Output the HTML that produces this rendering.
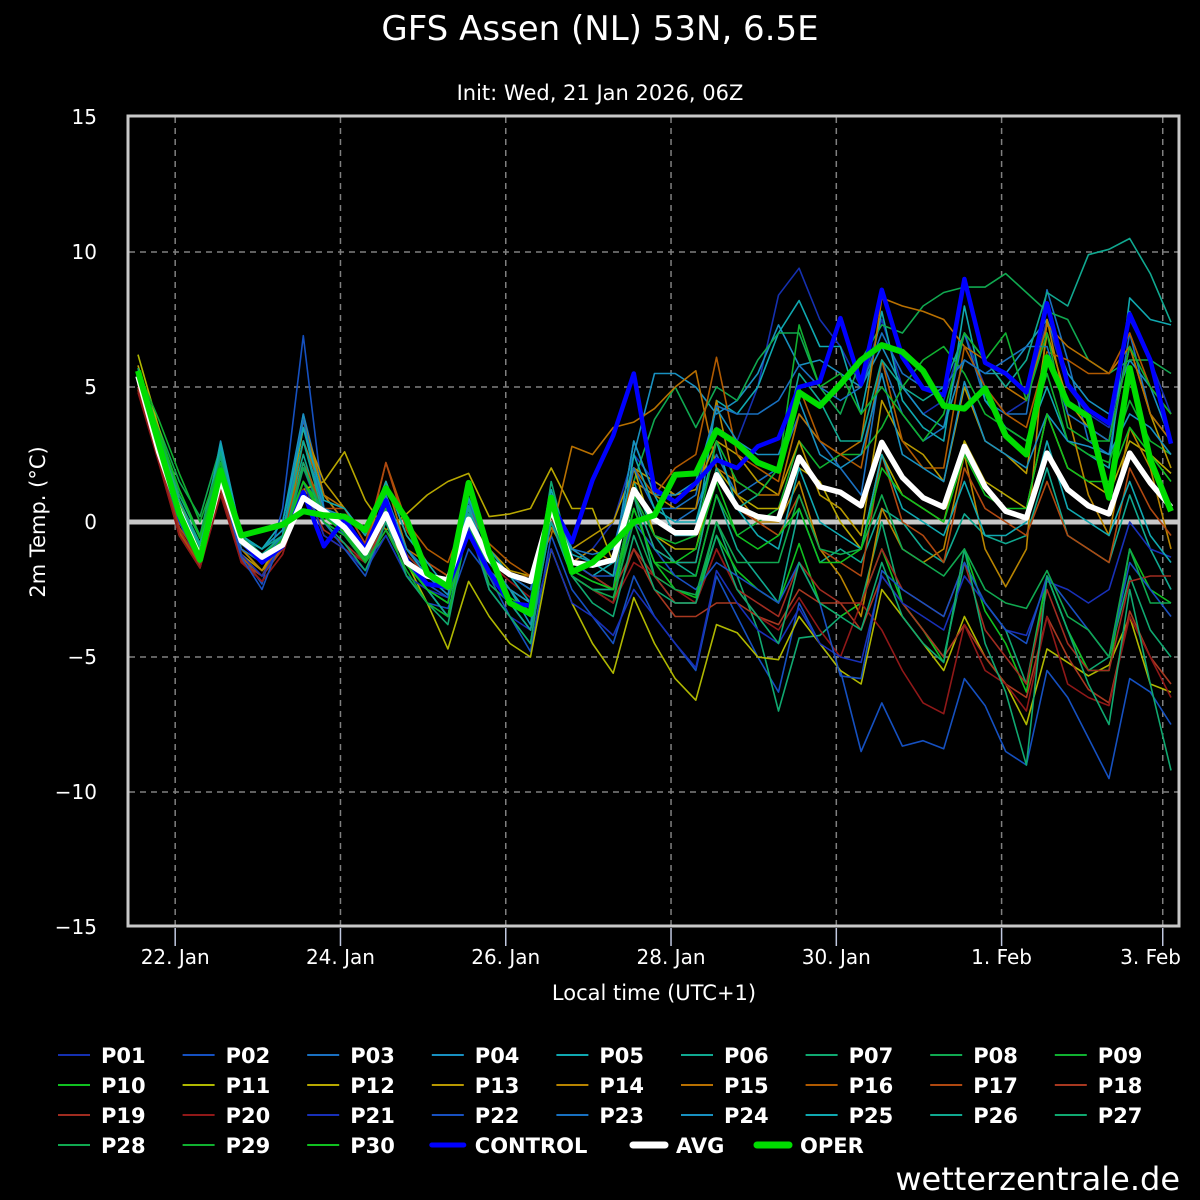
<!DOCTYPE html>
<html><head><meta charset="utf-8"><style>
html,body{margin:0;padding:0;background:#000;}
svg{display:block;font-family:"DejaVu Sans","Liberation Sans",sans-serif;}
</style></head><body>
<svg id="chart" width="1200" height="1200" viewBox="0 0 1200 1200" xmlns="http://www.w3.org/2000/svg">
<rect width="1200" height="1200" fill="#000"/>
<text x="600" y="40" fill="#fff" font-size="34" text-anchor="middle">GFS Assen (NL) 53N, 6.5E</text>
<text x="600" y="100" fill="#fff" font-size="21" text-anchor="middle">Init: Wed, 21 Jan 2026, 06Z</text>
<text x="0" y="0" fill="#fff" font-size="21" text-anchor="middle" transform="translate(45,522) rotate(-90)">2m Temp. (°C)</text>
<text x="654" y="1000" fill="#fff" font-size="21" text-anchor="middle">Local time (UTC+1)</text>
<text x="1180" y="1190" fill="#fff" font-size="32" text-anchor="end">wetterzentrale.de</text>
<defs><clipPath id="plotclip"><rect x="129" y="117" width="1049" height="808"/></clipPath></defs>
<g id="grid"></g>
<g id="series" clip-path="url(#plotclip)"></g>
<rect x="128" y="116" width="1051" height="810" fill="none" stroke="#c8c8c8" stroke-width="3"/>
<g id="axes"></g>
<g id="legend"></g>
</svg>
<script>
const dayLabels = ["22. Jan","24. Jan","26. Jan","28. Jan","30. Jan","1. Feb","3. Feb"];
const dayTickSteps = [1.8,9.8,17.8,25.8,33.8,41.8,49.6];
const yTicks = [15,10,5,0,-5,-10,-15];
const memberNames = ["P01","P02","P03","P04","P05","P06","P07","P08","P09","P10","P11","P12","P13","P14","P15","P16","P17","P18","P19","P20","P21","P22","P23","P24","P25","P26","P27","P28","P29","P30"];
const memberColors = ["#1530b0","#1550c0","#1a70c0","#1890c0","#10a8b0","#10a890","#10a870","#10a850","#10b030","#10c020","#b0b800","#b8a800","#b89800","#b88400","#b87000","#b05a00","#b04810","#a83820","#a02c20","#901818","#1830b8","#1850c0","#1870c0","#1890c0","#10a8b0","#10a890","#10a870","#10a850","#10b030","#10c020"];
const P01=[5.2,2.6,0.2,-1.5,1.8,-1,-1.8,-1,2,0,-0.5,-1.5,0.5,-1.5,-2.3,-2.5,0,-1.5,-2.5,-3,0.5,-1.5,-1,0,2.5,1.5,1,1.5,3.5,3,5,8.4,9.4,7.5,6.5,5,7.5,5,4,4.5,7,5,4,4.5,7.5,5,4,3.5,7.5,6,4];
const P02=[5,2.4,0,-1.6,1.5,-1.2,-2.3,0.5,6.9,0.5,-0.5,-1.5,0,-2,-3,-3.2,-1,-2,-3.5,-4.8,-0.5,-2.5,-3.5,-4.5,-2,-3.5,-4.5,-5.5,-2,-3.5,-5,-6.3,-3,-4.5,-5.5,-8.5,-6.7,-8.3,-8.1,-8.4,-5.8,-6.8,-8.5,-9,-5.5,-6.5,-8,-9.5,-5.8,-6.3,-7.5];
const P03=[5.3,2.7,0.3,-1.2,2.5,-0.8,-1.5,-0.5,4,1,0,-1,0.8,-1,-2,-2.5,0.8,-1.2,-2,-2.5,1,-1,-1.5,-1.5,2,0.5,0,0.5,2.5,1,1.5,2,4,3,2,1,6,4,3,3.5,7,4.5,4,4,8.6,6,3,2.5,7,4,3];
const P04=[5.4,2.9,0.5,-1,3,-0.5,-1,0,4,0.5,0,-1,0.5,-1.5,-2.5,-3.5,0.2,-1.8,-2.5,-3.8,0.8,-1.5,-2,-2.5,2.5,5.5,5.5,5,4,4.5,5.5,7.3,5.8,6,5.5,5,6.5,5,4,3.5,6,5.5,5.5,6.5,7.5,5.5,4.5,4,6,5,3];
const P05=[5.5,2.8,0.4,-1.2,2.7,-0.7,-1.2,-0.5,3.5,0.5,0,-1,0.5,-1.5,-2.5,-3,0.3,-1.5,-2.5,-3.5,0.8,-1.5,-2,-1.5,3,1,-0.5,-0.5,4.5,4,5,7,8.2,6.5,6.5,4,7.8,4.5,3.5,3,8,4.5,3.5,3,5,3,2.5,2,8.3,7.5,7.3];
const P06=[5.6,3,0.8,-0.8,2.5,-0.5,-1,-0.5,2.5,0,-0.5,-1.5,0,-2,-2.5,-3.5,0,-2,-3,-4,0,-2,-2.5,-3,1.5,-0.5,-1.5,-2,1,-1,-2,-3,0.5,-1.5,-1,-1.5,0.5,0,-1,-1.5,0.3,-0.5,-0.8,-0.5,2,-0.5,-1,-1.5,1,-1,-2.5];
const P07=[5.5,3.2,1,-0.5,2.8,-0.5,-1.2,-0.5,3,0.5,0,-1,1.5,-1,-2,-2.5,0.8,-2,-3,-3.5,1.5,-1.5,-2,-2.5,1,-2,-3,-3,0,-2,-4,-7,-4.3,-4.2,-3.5,-3,0,-3,-4,-5,-1.5,-3,-4,-6,-2,-4,-5.5,-5,-2,-4,-5];
const P08=[5.6,3.5,1.5,0.2,2.8,-0.5,-1,-0.3,2,0.2,-0.3,-1.2,0.5,-1.5,-2.5,-3,0.5,-1.5,-2.5,-3,1,-1,-1.5,-2,1.5,3.8,5,3.5,5,4.5,6,7,7,5,4,6,7.3,7,8,8.5,8.7,8.7,9.2,8.5,7.8,7.5,6,5.5,6,6,5.5];
const P09=[5.7,3,0.8,-1,2.5,-0.8,-1.5,-0.8,1.5,0.3,-0.2,-1.5,-0.5,-2,-3,-3.5,0,-2.5,-3.5,-4.5,0.5,-2,-2.5,-3,0.5,-1.5,-2,-2,1,-0.5,0,0.5,3,2,2.5,2.5,3.5,5,6,6.5,5.5,4,3.5,3,5.5,3,2.5,2.2,4.5,3,2.5];
const P10=[5.5,3,0.5,-1.3,2.2,-0.7,-1.3,-0.5,1.5,0.5,-0.2,-1.2,0.8,-1.2,-2,-2.5,0.5,-2,-3,-3.5,0,-2,-2.5,-2.5,0.5,-1.5,-2.5,-2.8,-0.5,-1.8,-2.5,-3,-0.8,-3,-3.5,-3,-1,-3,-4,-5.2,-1,-3.3,-4.5,-6.3,-2,-4,-5.5,-5.5,-1,-2.5,-3];
const P11=[6.2,3.5,0.8,-1.2,1.5,-0.8,-1.5,-0.8,1.2,0.5,-0.3,-1.5,-0.3,-1.5,-3,-4.7,-2.2,-3.5,-4.5,-5,-1,-3,-4.5,-5.6,-2.8,-4.5,-5.8,-6.6,-3.8,-4.1,-5,-5.1,-3.5,-4.5,-5.5,-6,-2.5,-3.5,-4.5,-5.5,-3.5,-5,-6,-7.5,-4.7,-5.2,-5.7,-5.3,-3.5,-6,-6.3];
const P12=[5.8,3.2,0.5,-1.5,1.8,-1,-1.8,-0.5,1.2,1.5,2.6,0.8,-0.3,0.3,1,1.5,1.8,0.2,0.3,0.5,2,0.5,0.5,-1.5,2,-0.5,-1,-1,2,1,0.5,0.5,2,1.5,0,-1,2.5,1,0.5,0,3,1.5,1,0.5,4,2,1.5,1,3,2.5,1.8];
const P13=[5.3,2.8,0.2,-1.5,1.5,-1.2,-1.8,-0.8,3.5,1.5,0.5,-0.8,0.5,-1.5,-2,-2.2,0.8,-1,-1.8,-2,0.3,-1,-0.5,0,2,1.5,1,1.2,3,2.5,1.5,1,3,1,0.5,-0.5,4.5,3,2.5,1.5,5,3,2.5,1.8,7,4.5,3.5,3,6.5,4,2];
const P14=[5,2.5,-0.3,-1.6,1.5,-1,-1.8,-1,3.8,1,0,-1,1.5,-0.5,-1.5,-2,0.5,-1,-2,-2.5,-0.2,-1.5,-1,-1.5,1.5,1,0.5,0.5,4.5,1,0,0,1.5,-1,-2,-3.5,0.5,-1,-1.5,-1,2.5,-1,-2.4,-1,7.5,4,1,-0.5,3.5,2,-1];
const P15=[4.9,2.3,-0.5,-1.7,1.3,-1.3,-2,-1,3,1,0.5,-0.5,1.5,-1,-1.5,-2,0.5,-1.5,-2,-2,-0.5,2.8,2.5,3.5,3.7,4.2,5,5.6,2,1.5,1,1,4,3,2.5,3,8.3,8,7.8,7.5,6.5,6,5,4.5,7.3,6.5,6,5.5,6.5,4,3];
const P16=[5,2.5,-0.4,-1.5,1.3,-1.3,-2,-0.5,2.2,0.5,0,-1,2.2,0,-1,-1.5,0.5,-0.8,-1.5,-2,0.5,-1,-1.5,-2,2,1,2,2.5,6.1,2.5,2,1.5,5,3,2.5,2,6,3,2,2,6.5,5,4,3.5,6.3,6,5.5,5.5,7,5,4];
const P17=[5.1,2.5,-0.2,-1.3,1.5,-1,-1.5,-0.5,2,0.5,0.5,-0.8,2.2,-0.3,-1.5,-2,0,-1,-2,-2.5,0,-1.5,-2,-2.5,1,-1,-1.5,-1.5,2,0.5,0,-0.5,1,-1,-1.5,-2,2.5,0,-0.5,-1.5,2,0.5,0,-0.5,1.5,-0.5,-1,-1.5,2,0.5,-0.5];
const P18=[4.9,2.3,-0.5,-1.6,1.2,-1.5,-2,-1,1.5,-0.5,-1,-1.5,0,-1.5,-2,-2.5,-0.5,-2,-3,-3.5,0.3,-2,-2.5,-3,-1,-2.5,-3.5,-3.5,-3,-3,-3.5,-3.8,-2.5,-3,-3,-4,-2,-3,-4,-5,-3.8,-5,-6,-6.5,-3.5,-5,-6.2,-6.7,-3.3,-5,-6];
const P19=[5,2.4,-0.3,-1.5,1.3,-1.4,-2.2,-1.2,1.2,-0.3,-0.8,-1.5,0.3,-1.2,-2,-2.5,-0.3,-1.5,-2.5,-3,0,-1.5,-2,-2.5,-1,-2,-3,-3,-1,-2.5,-3,-3.5,-1.5,-2.5,-3,-3,-1,-2.5,-3,-3.5,-1.5,-4,-5,-6,-2.5,-4.5,-5.5,-5.5,-2.2,-2,-2];
const P20=[4.8,2.2,-0.5,-1.7,1,-1.5,-2.2,-1.2,1.5,-0.5,-1,-1.5,0.5,-1.5,-2,-2.3,0,-1.5,-2.2,-2.8,0.2,-2,-2.5,-3,-1.5,-2,-2.5,-3,-1,-2.5,-3.5,-4,-2.8,-4,-5,-3,-4,-5.5,-6.7,-7.1,-3.8,-5.5,-6,-7,-3.5,-6,-6.5,-6.8,-3.5,-5,-6.5];
const P21=[5.3,2.6,0,-1.4,1.7,-1.2,-2,-0.8,1.5,-0.5,-1,-1.8,-0.5,-2,-2.5,-2.8,-0.2,-2.5,-3.5,-4,-1,-3,-3.5,-4.2,-2.5,-3.5,-4.5,-5.4,-1.8,-3,-4,-4.5,-3.2,-4.5,-5,-5.2,-2,-3,-3.5,-4,-2,-3,-4,-4.2,-2.2,-2.5,-3,-2.5,0,-1,-1.3];
const P22=[5.2,2.5,0,-1.5,1.6,-1.3,-2.5,-0.5,1,0,-1,-2,0,-1.5,-2.3,-2.8,0.2,-1.5,-2,-2.5,0,-1.5,-2,-2,0,-1,-2,-2.5,-1.5,-2,-2.5,-3,-1.5,-3,-5.7,-5.8,-1.8,-2.5,-3,-3.5,-1.5,-3,-4,-4.5,-2,-3,-4,-5,-1.5,-2.5,-3.5];
const P23=[5.4,2.7,0.3,-1.3,2,-1,-1.5,-0.5,3.8,0.5,0,-1.3,0.8,-1,-1.8,-2.5,0.8,-1.2,-2,-2.5,0.8,-1,-1.2,-1,2,0.5,0.5,1,4.3,4,4,4.5,5.8,5,4.5,5,7,5.5,5,5,6,5.5,6,6.5,6.5,4,3.5,3,7.8,6,3];
const P24=[5.5,2.8,0.4,-1.1,2.8,-0.6,-1,-0.3,3,0.5,0.2,-1,1,-1,-2,-2.7,0.6,-1.5,-2.5,-3,1,-1,-1.5,-1.5,3,1,1,1.5,4.2,3,2.5,2.5,4.5,2.5,2,2.5,5.5,2.5,2,1.5,5.2,3,2.5,2,4,3,2.8,2.5,4,3.5,2.5];
const P25=[5.6,2.9,0.6,-0.9,2.9,-0.5,-1,0,3.5,0.8,0.5,-0.5,1.5,-0.5,-1.5,-2.5,0.9,-1,-2,-3,1.2,-1.2,-1.5,-2,2.5,0.5,0,0,3,0.5,-0.5,-1,2,0,-0.5,-1,2.5,0.5,0,-0.5,1.5,-0.5,-0.5,0,3,0.5,0,-0.5,1.5,-0.5,-1.5];
const P26=[5.6,3.1,0.8,-0.8,2.6,-0.7,-1.2,-0.5,3,0.2,-0.3,-1.5,0.5,-1.5,-2.5,-3.5,0.5,-2,-3,-4,0,-2,-2.5,-2.5,1,-1,-1.5,-1.5,2,0.5,1,2,5.5,4.5,3,3,6,5,4.5,5,7,6,5,6,8.5,8,9.9,10.1,10.5,9.2,7.4];
const P27=[5.7,3.3,1,-0.6,2.4,-0.8,-1.5,-0.8,2.2,0,-0.8,-1.8,0,-2,-3,-3.8,0,-2.5,-3.5,-4.5,0.5,-2,-3,-3.5,-0.5,-2.5,-3,-3,-0.5,-2.5,-3.5,-4.5,-1.5,-3,-3.5,-4,-1.5,-3.5,-4.5,-5.2,-1,-4.5,-6.3,-9,-2,-4,-6,-7.5,-2.5,-6,-9.2];
const P28=[5.6,3.2,1.2,-0.5,2.2,-0.5,-1.3,-0.8,2,0.3,-0.3,-1.3,0.5,-1.5,-2.5,-3,0,-2.3,-3,-3.5,0.3,-2,-2.5,-2.8,0,-2,-2.5,-2.7,0,-1.5,-1.5,-1.5,1,-1,-1.2,-1,1,-1,-1.5,-2,-1,-2.5,-3,-3.2,-1.8,-3.5,-4,-5,-1,-3,-3];
const P29=[5.6,3.8,1.8,0,2.2,-0.8,-1.5,-0.6,1.5,0,-0.5,-1.5,-0.3,-1.8,-3,-3.5,0,-2,-3,-3.3,0.5,-1.8,-2.2,-2.5,1,-0.5,-0.8,-0.5,3,1.5,1,2,7.3,5,5.5,4,5,4,3,4,7,6,7,4.5,7,3.5,3,3,6.5,5,4];
const P30=[5.5,3.4,1.2,-0.6,2,-0.7,-1.4,-0.7,1.5,0.2,-0.4,-1.4,0.3,-1.6,-2.5,-3,0.2,-2,-2.8,-3.3,0.4,-1.8,-2.2,-2.5,0.5,-1.5,-1.5,-1,1.5,-0.5,-1,-0.5,0.5,-1.5,-1.5,-1,2,1,0.5,0,2.5,1,0.5,0.5,4,2,1.5,1.5,3.5,2.5,1.5];
const members=[P01,P02,P03,P04,P05,P06,P07,P08,P09,P10,P11,P12,P13,P14,P15,P16,P17,P18,P19,P20,P21,P22,P23,P24,P25,P26,P27,P28,P29,P30];
const controlValues=[5.5,2.8,0.2,-1.4,1.8,-0.7,-1.5,-0.9,1.1,-0.9,0.1,-1.0,0.8,-1.4,-2.3,-2.4,-0.4,-1.85,-3.0,-3.1,0.7,-0.75,1.55,3.2,5.5,1.2,0.75,1.45,2.3,2.0,2.8,3.1,5.0,5.2,7.55,5.1,8.6,6.1,4.95,4.7,9.0,5.9,5.5,4.8,8.1,5.1,4.15,3.65,7.7,6.0,2.9];
const avgValues=[5.4,2.6,0.4,-1.3,1.6,-0.7,-1.3,-0.85,0.9,0.4,-0.2,-1.15,0.3,-1.5,-2.0,-2.15,0.1,-1.4,-1.95,-2.2,0.5,-1.5,-1.6,-1.4,1.2,0.1,-0.4,-0.4,1.75,0.55,0.2,0.1,2.4,1.3,1.1,0.6,2.95,1.65,0.9,0.55,2.8,1.3,0.4,0.15,2.55,1.2,0.6,0.3,2.55,1.45,0.55];
const operValues=[5.6,2.9,0.3,-1.4,1.9,-0.5,-0.3,-0.1,0.4,0.25,0.2,-0.3,1.25,0.1,-1.9,-2.4,1.45,-1.15,-3.0,-3.4,0.9,-1.85,-1.5,-0.8,0.0,0.25,1.75,1.8,3.4,2.9,2.2,1.9,4.8,4.3,5.1,6.0,6.55,6.3,5.6,4.3,4.2,4.95,3.2,2.5,6.1,4.4,3.9,0.9,5.7,2.3,0.4];

const NS="http://www.w3.org/2000/svg";
const X0=138, STEP=20.66, Y0=522, PXDEG=27;
function xScale(t){return X0+t*STEP;}
function yScale(v){return Y0-v*PXDEG;}
function mk(tag,attrs,parent){const e=document.createElementNS(NS,tag);for(const k in attrs)e.setAttribute(k,attrs[k]);parent.appendChild(e);return e;}
const grid=document.getElementById('grid'),series=document.getElementById('series'),axes=document.getElementById('axes'),legend=document.getElementById('legend');

yTicks.forEach(v=>{
  const y=yScale(v);
  if(v===0){
    const z=mk('line',{x1:129,x2:1178,y1:y,y2:y,stroke:'#c8c8c8','stroke-width':5},grid);
    
    
  } else if(v!==15&&v!==-15){
    const g=mk('line',{x1:129,x2:1178,y1:y,y2:y,stroke:'#808080','stroke-width':1.5,'stroke-dasharray':'6,5'},grid);
    
    
  }
  const tx=mk('text',{x:97,y:y+7,fill:'#fff','font-size':20,'text-anchor':'end'},axes);
  tx.textContent=(v<0?'\u2212'+(-v):String(v));
  
  
});
dayTickSteps.forEach((s,i)=>{
  const x=xScale(s);
  const g=mk('line',{x1:x,x2:x,y1:117,y2:925,stroke:'#808080','stroke-width':1.5,'stroke-dasharray':'6,5'},grid);
  
  
  const tk=mk('line',{x1:x,x2:x,y1:928,y2:946,stroke:'#c0c8e0','stroke-width':1.5},axes);
  
  
  const last=(i===dayLabels.length-1);
  const tx=mk('text',{x:last?1181:x,y:964,fill:'#fff','font-size':20,'text-anchor':last?'end':'middle'},axes);
  tx.textContent=dayLabels[i];
  
  
});
function pts(arr){return arr.map((v,t)=>xScale(t).toFixed(1)+','+yScale(v).toFixed(1)).join(' ');}
members.forEach((arr,i)=>{
  const p=mk('polyline',{points:pts(arr),fill:'none',stroke:memberColors[i],'stroke-width':1.6,'stroke-linejoin':'round'},series);
  
  
});
const c=mk('polyline',{points:pts(controlValues),fill:'none',stroke:'#0000ff','stroke-width':4.5,'stroke-linejoin':'round'},series);


const a=mk('polyline',{points:pts(avgValues),fill:'none',stroke:'#ffffff','stroke-width':5.5,'stroke-linejoin':'round'},series);


const o=mk('polyline',{points:pts(operValues),fill:'none',stroke:'#00dd00','stroke-width':6,'stroke-linejoin':'round'},series);



const legendItems=memberNames.map((n,i)=>({n:n,c:memberColors[i],w:2}));
legendItems.push({n:'CONTROL',c:'#0000ff',w:5},{n:'AVG',c:'#ffffff',w:7},{n:'OPER',c:'#00dd00',w:7});
legendItems.forEach((it,i)=>{
  const col=i%9,row=Math.floor(i/9);
  let x=58+col*124.6;
  if(i===31)x=633; if(i===32)x=757;
  const y=1055+row*30;
  const g=mk('g',{},legend);
  
  
  mk('line',{x1:x,x2:x+32,y1:y,y2:y,stroke:it.c,'stroke-width':it.w,'stroke-linecap':it.w>4?'round':'butt'},g);
  const t=mk('text',{x:x+43,y:y+8,fill:'#fff','font-size':21,'font-weight':'bold'},g);
  t.textContent=it.n;
});
</script>
</body></html>
